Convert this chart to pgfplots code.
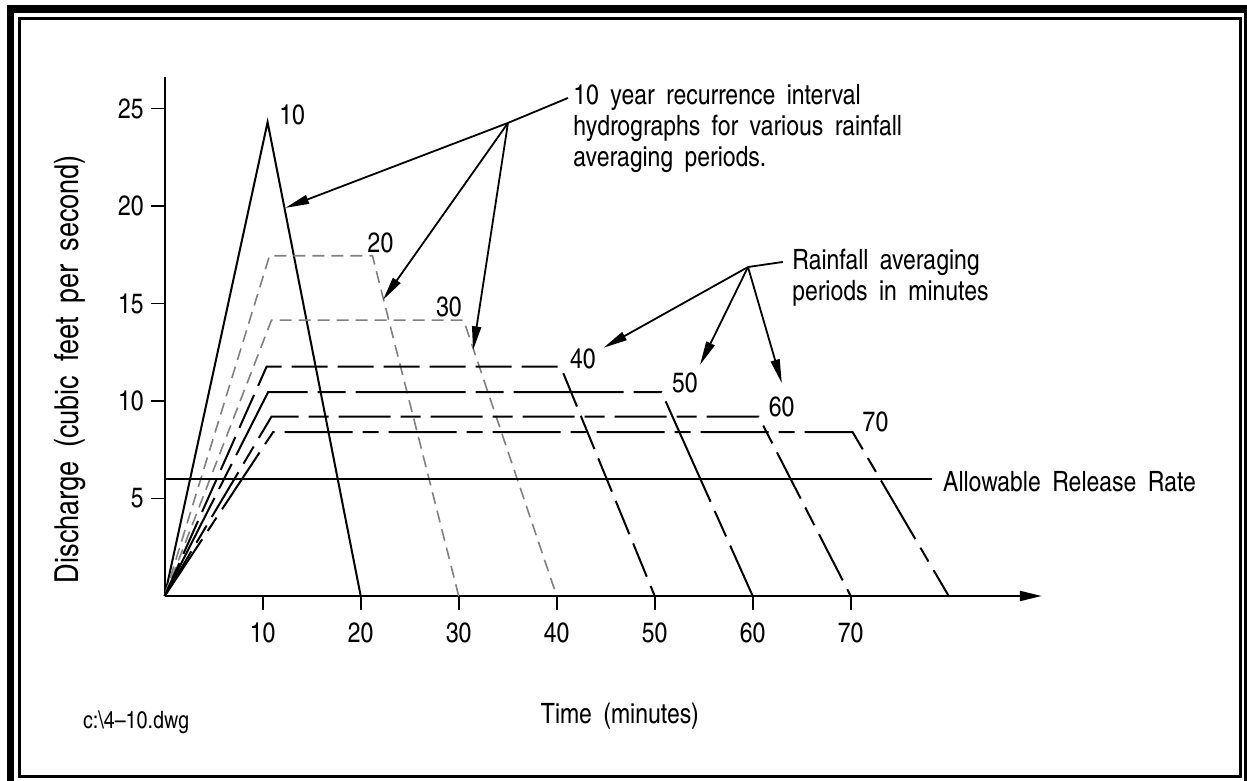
\documentclass[border=0pt]{standalone}
\usepackage{fontspec}
\setmainfont{texgyreheroscn-regular.otf}[WordSpace=1.8]
\usepackage{pgfplots}
\pgfplotsset{compat=1.18}
\usetikzlibrary{arrows.meta}

\tikzset{
  lead/.style={line width=0.9pt,-{Triangle[length=12pt,width=4.5pt]}},
  curve/.style={line width=1pt,black},
  grey/.style={line width=0.8pt,gray,dash pattern=on 6pt off 3.5pt},
}

\begin{document}
\begin{tikzpicture}
\useasboundingbox (0,0) rectangle (623.5pt,390.5pt);
% double frame
\draw[line width=3.75pt] (5.25pt,-2pt) rectangle (624pt,386pt);
\draw[line width=1.5pt] (9.75pt,2.25pt) rectangle (620.25pt,381.25pt);

\begin{axis}[
  at={(82.35pt,92.5pt)}, anchor=origin,
  x=4.9pt, y=9.75pt,
  xmin=0, xmax=89.5, ymin=0, ymax=26.6,
  axis x line=bottom, axis y line=left,
  x axis line style={line width=1pt,-{Triangle[length=11pt,width=5pt]}},
  y axis line style={line width=1pt,-},
  xtick={10,20,...,70}, ytick={5,10,...,25},
  tick align=outside, major tick length=7pt,
  tick style={line width=0.9pt,black},
  tick label style={font=\fontsize{14}{16}\selectfont},
  xticklabel style={yshift=-3pt},
  /pgf/number format/assume math mode=true,
  xlabel={Time (minutes)},
  xlabel style={at={(axis description cs:0.519,-0.231)},anchor=center,font=\fontsize{14}{16}\selectfont},
  ylabel={Discharge (cubic feet per second)},
  ylabel style={at={(axis description cs:-0.108,0.4376)},anchor=center,font=\fontsize{16.5}{18}\selectfont},
  clip=false,
]
% hydrographs
\addplot[curve] coordinates {(0,0) (10.5,24.3) (20,0)};
\addplot[grey] coordinates {(0,0) (10.7,17.45) (21.2,17.45) (30,0)};
\addplot[grey] coordinates {(0,0) (10.9,14.15) (30.5,14.15) (40,0)};
\addplot[curve,dash pattern=on 18pt off 5pt] coordinates {(0,0) (10.4,11.76) (40.4,11.76) (50,0)};
\addplot[curve,dash pattern=on 55pt off 5pt on 14pt off 5pt] coordinates {(0,0) (10.55,10.45) (50.7,10.45) (60,0)};
\addplot[curve,dash pattern=on 26pt off 5pt on 10pt off 5pt] coordinates {(0,0) (10.9,9.2) (60.6,9.2) (70,0)};
\addplot[curve,dash pattern=on 34pt off 5pt on 8pt off 5pt] coordinates {(0,0) (11.05,8.4) (70.2,8.4) (80,0)};
% allowable release rate
\addplot[curve] coordinates {(0,6) (78.3,6)};

\begin{scope}[font=\fontsize{14}{16}\selectfont]
\node[anchor=base] at (axis cs:13.0,24.2) {10};
\node[anchor=base] at (axis cs:22.02,17.64) {20};
\node[anchor=base] at (axis cs:29.0,14.31) {30};
\node[anchor=base] at (axis cs:42.68,11.69) {40};
\node[anchor=base] at (axis cs:53.09,10.46) {50};
\node[anchor=base] at (axis cs:62.94,9.18) {60};
\node[anchor=base] at (axis cs:72.53,8.41) {70};
\node[anchor=base west,inner sep=0pt] at (axis cs:79.4,5.35) {Allowable Release Rate};

\node[anchor=base west,inner sep=0pt] at (axis cs:41.67,25.23) {10 year recurrence interval};
\node[anchor=base west,inner sep=0pt] at (axis cs:41.67,23.64) {hydrographs for various rainfall};
\node[anchor=base west,inner sep=0pt] at (axis cs:41.67,22.05) {averaging periods.};

\node[anchor=base west,inner sep=0pt] at (axis cs:64.0,16.72) {Rainfall averaging};
\node[anchor=base west,inner sep=0pt] at (axis cs:64.0,15.13) {periods in minutes};
\end{scope}

\node[font=\fontsize{12}{14}\selectfont] at (axis cs:-2.93,-6.46) {c:\textbackslash 4--10.dwg};

% leaders
\draw[line width=0.9pt] (axis cs:41.15,25.54) -- (axis cs:35.03,24.26);
\draw[lead] (axis cs:35.03,24.26) -- (axis cs:12.3,19.9);
\draw[lead] (axis cs:35.03,24.26) -- (axis cs:22.27,15.18);
\draw[lead] (axis cs:35.03,24.26) -- (axis cs:31.46,12.6);

\draw[line width=0.9pt] (axis cs:63.07,17.13) -- (axis cs:59.52,16.87);
\draw[lead] (axis cs:59.52,16.87) -- (axis cs:44.78,12.73);
\draw[lead] (axis cs:59.52,16.87) -- (axis cs:54.62,11.85);
\draw[lead] (axis cs:59.52,16.87) -- (axis cs:62.97,10.91);
\end{axis}
\end{tikzpicture}
\end{document}
